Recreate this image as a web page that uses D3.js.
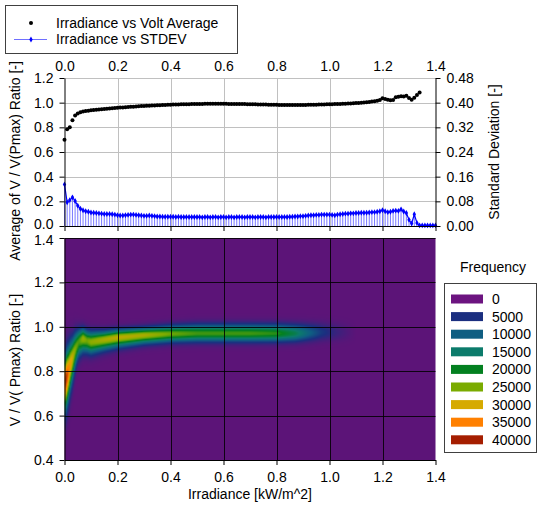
<!DOCTYPE html>
<html>
<head>
<meta charset="utf-8">
<script src="https://cdn.jsdelivr.net/npm/d3@7"></script>
<style>
body { margin: 0; background: #fff; }
svg text { font-family: "Liberation Sans", Arial, sans-serif; font-size: 14px; fill: #000; }
</style>
</head>
<body>
<svg id="chart" width="540" height="513"></svg>
<script>
// irradiance bins are 0.01 kW/m^2 apart, starting at 0
const irrStep = 0.01;

// Irradiance vs Volt Average (left axis), 0.00 .. 1.34
const voltAvg = [
  0.700,0.785,0.800,0.858,0.895,0.912,0.922,0.928,0.932,0.935,
  0.938,0.940,0.942,0.944,0.946,0.948,0.950,0.952,0.954,0.956,
  0.958,0.960,0.961,0.963,0.964,0.966,0.967,0.969,0.970,0.972,
  0.973,0.974,0.976,0.977,0.978,0.979,0.980,0.981,0.982,0.983,
  0.984,0.985,0.985,0.986,0.987,0.987,0.988,0.988,0.989,0.989,
  0.990,0.990,0.990,0.991,0.991,0.991,0.991,0.991,0.991,0.991,
  0.991,0.991,0.990,0.990,0.990,0.990,0.989,0.989,0.989,0.988,
  0.988,0.987,0.987,0.986,0.986,0.985,0.985,0.984,0.984,0.983,
  0.983,0.982,0.982,0.982,0.982,0.981,0.981,0.981,0.981,0.981,
  0.982,0.982,0.983,0.983,0.984,0.984,0.985,0.986,0.986,0.987,
  0.988,0.988,0.989,0.990,0.990,0.991,0.992,0.993,0.994,0.995,
  0.997,0.998,1.000,1.002,1.004,1.006,1.009,1.012,1.016,1.022,
  1.036,1.030,1.024,1.020,1.022,1.043,1.048,1.053,1.050,1.056,
  1.038,1.024,1.040,1.062,1.082
];

// Irradiance vs STDEV (right axis), 0.00 .. 1.40
const stdev = [
  0.135,0.077,0.084,0.093,0.081,0.066,0.056,0.051,0.048,0.046,
  0.044,0.043,0.042,0.041,0.040,0.039,0.039,0.039,0.038,0.037,
  0.035,0.034,0.034,0.035,0.036,0.037,0.037,0.036,0.035,0.034,
  0.033,0.033,0.034,0.033,0.032,0.031,0.031,0.030,0.030,0.030,
  0.030,0.030,0.029,0.030,0.029,0.029,0.029,0.029,0.029,0.029,
  0.029,0.029,0.028,0.029,0.029,0.028,0.029,0.029,0.028,0.029,
  0.029,0.028,0.029,0.029,0.028,0.029,0.029,0.029,0.028,0.029,
  0.029,0.029,0.028,0.029,0.029,0.029,0.028,0.029,0.029,0.029,
  0.029,0.029,0.029,0.029,0.029,0.030,0.030,0.031,0.031,0.032,
  0.032,0.033,0.034,0.035,0.035,0.036,0.036,0.037,0.037,0.037,
  0.037,0.036,0.035,0.037,0.038,0.039,0.040,0.040,0.041,0.041,
  0.042,0.042,0.043,0.043,0.043,0.044,0.045,0.045,0.046,0.048,
  0.051,0.048,0.045,0.046,0.049,0.050,0.049,0.054,0.047,0.042,
  0.020,0.008,0.038,0.010,0.002,0.002,0.002,0.002,0.002,0.002,0.002
];

const xTicks = [0, 0.2, 0.4, 0.6, 0.8, 1.0, 1.2, 1.4];
const leftTicks = [0, 0.2, 0.4, 0.6, 0.8, 1.0, 1.2];
const rightTicks = [0, 0.08, 0.16, 0.24, 0.32, 0.40, 0.48];
const heatTicks = [0.4, 0.6, 0.8, 1.0, 1.2, 1.4];

// frequency ridge of the 2D histogram, read per irradiance column
const ridgeX      = [0.000,0.004,0.010,0.016,0.022,0.030,0.038,0.046,0.055,0.070,0.085,0.100,0.150,0.200,0.300,0.400,0.500,0.600,0.700,0.800,0.870,0.920,0.970,1.020,1.070,1.100];
const ridgeCenter = [0.755,0.760,0.780,0.800,0.830,0.860,0.890,0.915,0.935,0.947,0.938,0.932,0.942,0.952,0.962,0.968,0.970,0.970,0.970,0.970,0.970,0.972,0.975,0.975,0.975,0.975];
const ridgeUp     = [0.070,0.070,0.075,0.070,0.065,0.055,0.050,0.042,0.035,0.030,0.030,0.030,0.025,0.023,0.022,0.024,0.026,0.026,0.026,0.026,0.026,0.026,0.026,0.026,0.026,0.026];
const ridgeDown   = [0.090,0.090,0.085,0.080,0.075,0.070,0.060,0.050,0.045,0.040,0.036,0.035,0.031,0.029,0.025,0.024,0.024,0.024,0.024,0.024,0.024,0.024,0.024,0.024,0.024,0.024];
const ridgePeak   = [34000,40000,38000,35000,32000,29000,26000,24000,23000,26500,24500,26000,27500,28500,27500,24500,22500,22500,22500,21500,17000,11000,6000,3000,1000,0];

const freqLevels = [0, 5000, 10000, 15000, 20000, 25000, 30000, 35000, 40000];
const freqColors = ["#6c1480","#1b2f80","#0f5e82","#0c7b6b","#038020","#7aab00","#d6aa00","#ff8000","#a51e00"];
const plotBg = "#5c1478";

const svg = d3.select("#chart");
const left = 64.5, right = 435.5;
const topY0 = 78, topY1 = 226;
const heatY0 = 238, heatY1 = 460;

const x = d3.scaleLinear().domain([0, 1.4]).range([left, right]);
const yAvg = d3.scaleLinear().domain([0, 1.2]).range([topY1, topY0]);
const ySd = d3.scaleLinear().domain([0, 0.48]).range([topY1, topY0]);
const yHeat = d3.scaleLinear().domain([0.4, 1.4]).range([heatY1, heatY0]);

//==== top chart ====
const grid = svg.append("g").attr("stroke", "#c0c0c0").attr("stroke-width", 1);
grid.selectAll("line.v").data(xTicks.slice(1, -1)).enter().append("line")
  .attr("x1", d => Math.round(x(d)) + 0.5).attr("x2", d => Math.round(x(d)) + 0.5)
  .attr("y1", topY0).attr("y2", topY1);
grid.selectAll("line.h").data(leftTicks.slice(1)).enter().append("line")
  .attr("x1", left).attr("x2", right)
  .attr("y1", d => Math.round(yAvg(d)) + 0.5).attr("y2", d => Math.round(yAvg(d)) + 0.5);

// drop lines under the stdev series
svg.append("g").selectAll("line").data(stdev).enter().append("line")
  .attr("x1", (d, i) => x(i * irrStep)).attr("x2", (d, i) => x(i * irrStep))
  .attr("y1", ySd(0)).attr("y2", d => ySd(d))
  .attr("stroke", "#7878ff").attr("stroke-width", 1);

const sdLine = d3.line().x((d, i) => x(i * irrStep)).y(d => ySd(d));
svg.append("path").datum(stdev).attr("d", sdLine)
  .attr("fill", "none").attr("stroke", "#0000ff").attr("stroke-width", 1.2);
svg.append("g").selectAll("path").data(stdev).enter().append("path")
  .attr("d", d3.symbol(d3.symbolDiamond).size(10))
  .attr("transform", (d, i) => `translate(${x(i * irrStep)},${ySd(d)})`)
  .attr("fill", "#0000ff");

svg.append("g").selectAll("circle").data(voltAvg).enter().append("circle")
  .attr("cx", (d, i) => x(i * irrStep)).attr("cy", d => yAvg(d))
  .attr("r", 2).attr("fill", "#000");

// axes of the top chart
svg.append("g").attr("transform", `translate(0,${topY0})`)
  .call(d3.axisTop(x).tickValues(xTicks).tickFormat(d3.format(".1f")).tickSize(0).tickPadding(7))
  .call(g => g.select(".domain").remove());
svg.append("g").attr("transform", `translate(0,${topY1})`)
  .call(d3.axisBottom(x).tickValues(xTicks).tickFormat("").tickSize(5).tickSizeOuter(0));
svg.append("g").attr("transform", `translate(${left},0)`)
  .call(d3.axisLeft(yAvg).tickValues(leftTicks).tickFormat(d3.format(".1f")).tickSize(5).tickPadding(6).tickSizeOuter(0))
  .call(g => g.selectAll(".tick text").filter(d => d === 0).attr("dy", "0.2em"));
svg.append("g").attr("transform", `translate(${right},0)`)
  .call(d3.axisRight(ySd).tickValues(rightTicks).tickFormat(d3.format(".2f")).tickSize(5).tickPadding(6).tickSizeOuter(0));

//==== heat map ====
const centerS = d3.scaleLinear().domain(ridgeX).range(ridgeCenter).clamp(true);
const upS = d3.scaleLinear().domain(ridgeX).range(ridgeUp).clamp(true);
const downS = d3.scaleLinear().domain(ridgeX).range(ridgeDown).clamp(true);
const peakS = d3.scaleLinear().domain(ridgeX).range(ridgePeak).clamp(true);
const heatColor = d3.scaleLinear().domain(freqLevels)
  .range([plotBg].concat(freqColors.slice(1))).clamp(true);

const hw = Math.round(right - left), hh = heatY1 - heatY0;
const canvas = document.createElement("canvas");
canvas.width = hw; canvas.height = hh;
const ctx = canvas.getContext("2d");
const img = ctx.createImageData(hw, hh);
for (let px = 0; px < hw; px++) {
  const xv = x.invert(left + px + 0.5);
  const c = centerS(xv), pk = peakS(xv), su = upS(xv), sdn = downS(xv);
  for (let py = 0; py < hh; py++) {
    const v = yHeat.invert(heatY0 + py + 0.5);
    const s = v > c ? su : sdn;
    const val = pk * Math.exp(-0.5 * Math.pow((v - c) / s, 2));
    const col = d3.rgb(heatColor(val));
    const k = (py * hw + px) * 4;
    img.data[k] = col.r; img.data[k + 1] = col.g; img.data[k + 2] = col.b; img.data[k + 3] = 255;
  }
}
ctx.putImageData(img, 0, 0);
svg.append("image").attr("x", left).attr("y", heatY0)
  .attr("width", hw).attr("height", hh)
  .attr("preserveAspectRatio", "none")
  .attr("href", canvas.toDataURL());

const hgrid = svg.append("g").attr("stroke", "#000").attr("stroke-width", 1).attr("stroke-opacity", 0.85);
hgrid.selectAll("line.v").data(xTicks.slice(1, -1)).enter().append("line")
  .attr("x1", d => Math.round(x(d)) + 0.5).attr("x2", d => Math.round(x(d)) + 0.5)
  .attr("y1", heatY0).attr("y2", heatY1);
hgrid.selectAll("line.h").data(heatTicks.slice(1)).enter().append("line")
  .attr("x1", left).attr("x2", right)
  .attr("y1", d => Math.round(yHeat(d)) + 0.5).attr("y2", d => Math.round(yHeat(d)) + 0.5);

svg.append("g").attr("transform", `translate(${left},0)`)
  .call(d3.axisLeft(yHeat).tickValues(heatTicks).tickFormat(d3.format(".1f")).tickSize(5).tickPadding(6).tickSizeOuter(0))
  .call(g => g.selectAll(".tick text").filter(d => d === 1.4).attr("dy", "0.45em"));
svg.append("g").attr("transform", `translate(0,${heatY1})`)
  .call(d3.axisBottom(x).tickValues(xTicks).tickFormat(d3.format(".1f")).tickSize(5).tickPadding(7).tickSizeOuter(0));

//==== titles ====
svg.append("text").attr("transform", "translate(15,161) rotate(-90)")
  .attr("text-anchor", "middle").attr("dy", "0.35em").text("Average of V / V(Pmax) Ratio [-]");
svg.append("text").attr("transform", "translate(15,360) rotate(-90)")
  .attr("text-anchor", "middle").attr("dy", "0.35em").text("V / V( Pmax) Ratio [-]");
svg.append("text").attr("transform", "translate(494,152) rotate(-90)")
  .attr("text-anchor", "middle").attr("dy", "0.35em").text("Standard Deviation [-]");
svg.append("text").attr("x", 250).attr("y", 499)
  .attr("text-anchor", "middle").text("Irradiance [kW/m^2]");

//==== series legend ====
const lg = svg.append("g");
lg.append("rect").attr("x", 5.5).attr("y", 5.5).attr("width", 232).attr("height", 48)
  .attr("fill", "#fff").attr("stroke", "#404040");
lg.append("circle").attr("cx", 31).attr("cy", 23).attr("r", 2).attr("fill", "#000");
lg.append("text").attr("x", 56).attr("y", 28).text("Irradiance vs Volt Average");
lg.append("line").attr("x1", 14).attr("x2", 47).attr("y1", 39.5).attr("y2", 39.5)
  .attr("stroke", "#6f6fff").attr("stroke-width", 1);
lg.append("path").attr("d", d3.symbol(d3.symbolDiamond).size(10))
  .attr("transform", "translate(31,39.5)").attr("fill", "#0000ff");
lg.append("text").attr("x", 56).attr("y", 44).text("Irradiance vs STDEV");

//==== frequency legend ====
svg.append("text").attr("x", 493).attr("y", 272).attr("text-anchor", "middle").text("Frequency");
svg.append("rect").attr("x", 444.5).attr("y", 283.5).attr("width", 92).attr("height", 169)
  .attr("fill", "#fff").attr("stroke", "#404040");
const fl = svg.append("g").selectAll("g").data(freqLevels).enter().append("g")
  .attr("transform", (d, i) => `translate(0,${299 + i * 17.6})`);
fl.append("rect").attr("x", 451).attr("y", -4.5).attr("width", 32).attr("height", 9)
  .attr("fill", (d, i) => freqColors[i]);
fl.append("text").attr("x", 492).attr("y", 5).text(d => d);
</script>
</body>
</html>
